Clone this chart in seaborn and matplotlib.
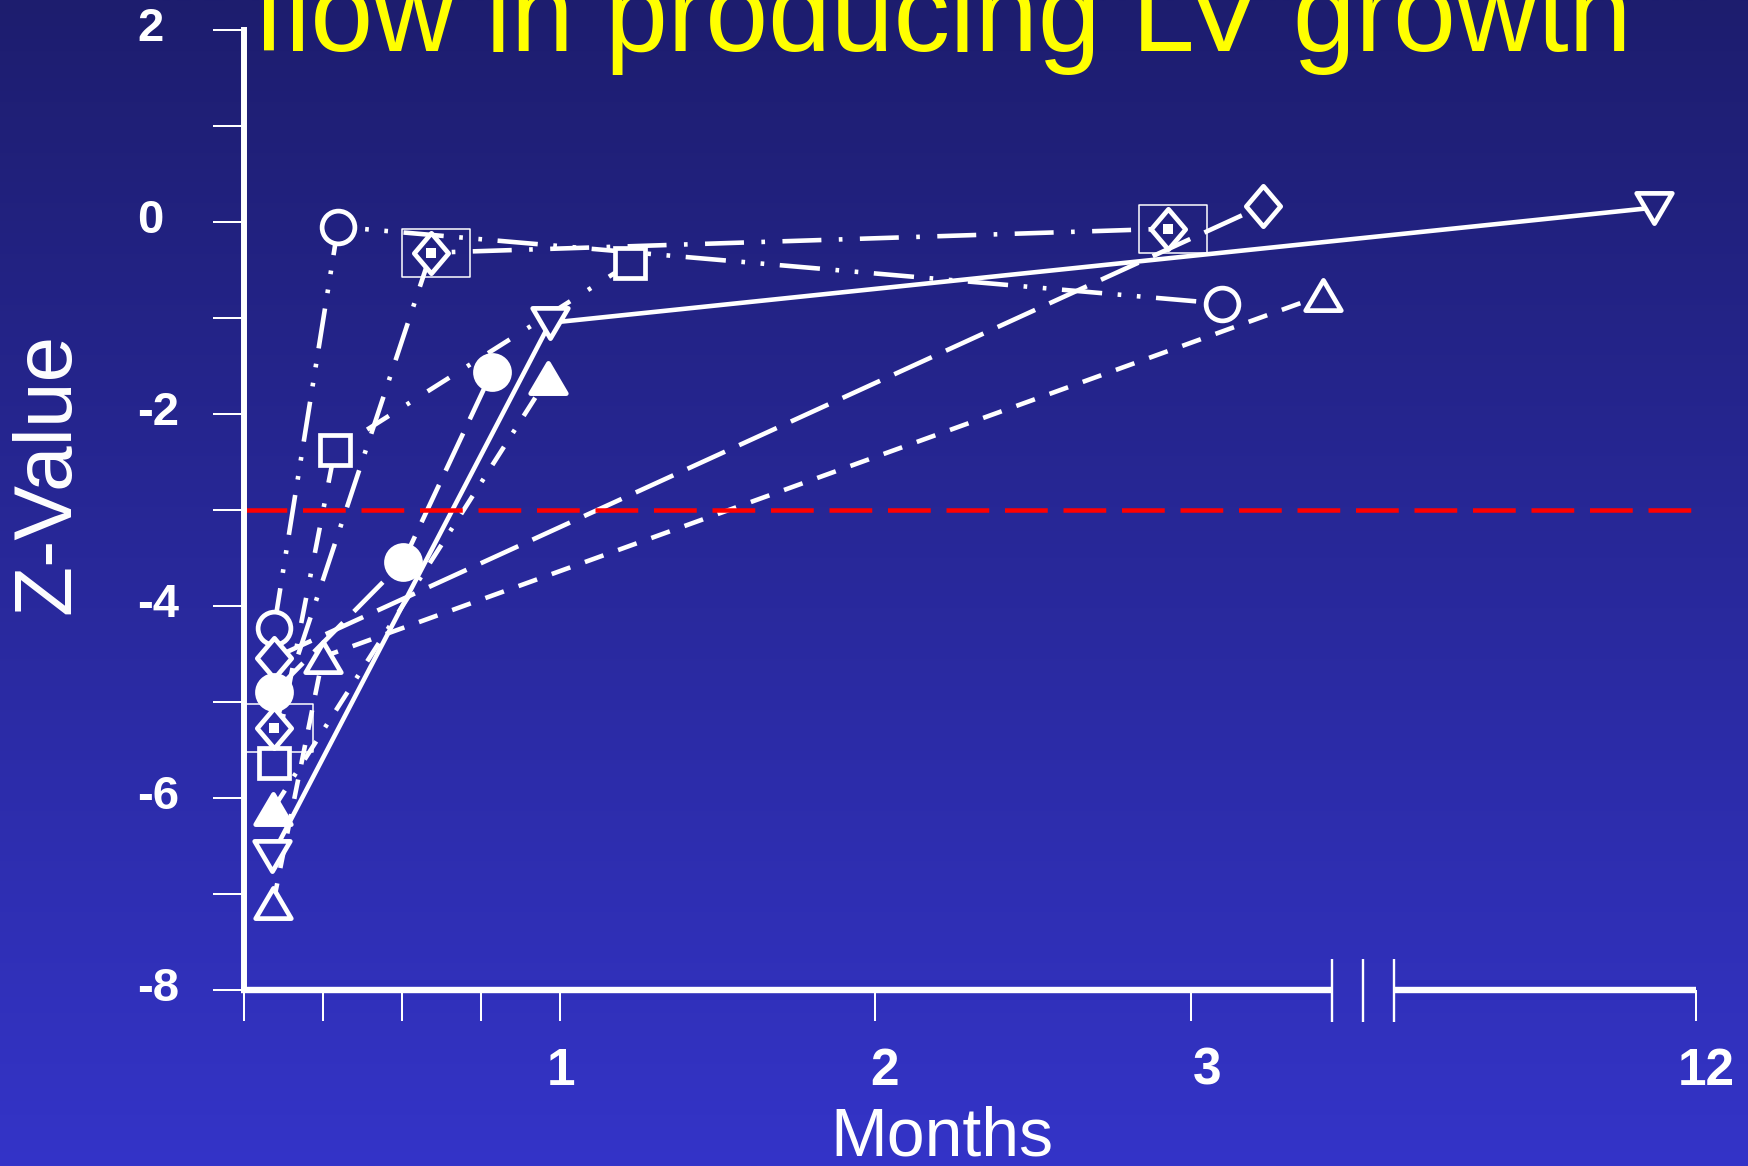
import numpy as np
import pandas as pd
import matplotlib
matplotlib.use("Agg")
import matplotlib.pyplot as plt
from matplotlib.path import Path
from matplotlib.markers import MarkerStyle
from matplotlib.transforms import ScaledTranslation
import seaborn as sns

# ---------------- data (x in plotted month units; "12" sits after the axis break) ----
circle_open_x = [0.095, 0.298, 3.10]
circle_open_z = [-4.23, -0.05, -0.85]
diamond_open_x = [0.095, 3.23]
diamond_open_z = [-4.54, 0.17]
circle_filled_x = [0.095, 0.504, 0.786]
circle_filled_z = [-4.90, -3.54, -1.56]
boxed_x = [0.095, 0.593, 2.93]
boxed_z = [-5.27, -0.32, -0.07]
square_open_x = [0.095, 0.288, 1.224]
square_open_z = [-5.64, -2.375, -0.43]
tri_filled_x = [0.093, 0.962]
tri_filled_z = [-6.11, -1.63]
tri_down_x = [0.089, 0.97, 4.47]
tri_down_z = [-6.60, -1.05, 0.15]
tri_up_x = [0.093, 0.25, 3.42]
tri_up_z = [-7.09, -4.53, -0.76]

x_tick_pos = [0, 0.25, 0.5, 0.75, 1, 2, 3, 4.602]
x_tick_labels = ["", "", "", "", "1", "2", "3", "12"]
y_ticks = list(range(-8, 3))
y_tick_labels = [str(v) if v % 2 == 0 else "" for v in y_ticks]
threshold = -3
break_lo, break_hi = 3.449, 3.645
title_text = "flow in producing LV growth"

FONT = ["Liberation Sans", "DejaVu Sans"]
plt.rcParams["font.family"] = FONT

LW = 3.3
MEW = 3.4
series = {
    "circle_open": (circle_open_x, circle_open_z, (8.8, 3.4, 0.8, 3.4, 0.8, 3.4)),
    "diamond_open": (diamond_open_x, diamond_open_z, (9, 3.4)),
    "circle_filled": (circle_filled_x, circle_filled_z, (9, 3.4)),
    "boxed": (boxed_x, boxed_z, (8.5, 3.8, 0.8, 3.8)),
    "square_open": (square_open_x, square_open_z, (5.6, 4.6, 0.8, 4.6)),
    "tri_filled": (tri_filled_x, tri_filled_z, (4.7, 3.6, 0.8, 3.6)),
    "tri_down": (tri_down_x, tri_down_z, ""),
    "tri_up": (tri_up_x, tri_up_z, (4.3, 3.4)),
}
rows = []
for name, (xs, zs, _) in series.items():
    for i, (xv, zv) in enumerate(zip(xs, zs)):
        rows.append({"series": name, "order": i, "x": xv, "z": zv})
df = pd.DataFrame(rows)
dash_map = {k: v[2] for k, v in series.items()}
palette = {k: "white" for k in series}

W, H, DPI = 1748, 1166, 100
fig = plt.figure(figsize=(W / DPI, H / DPI), dpi=DPI)

# background gradient
top_c = np.array([0x1d, 0x1d, 0x6e]) / 255.0
bot_c = np.array([0x34, 0x34, 0xc8]) / 255.0
def bg_at(frac):
    return tuple(bot_c + (top_c - bot_c) * frac)
grad = np.linspace(1, 0, 800)[:, None, None]
img = bot_c[None, None, :] + (top_c - bot_c)[None, None, :] * grad
bgax = fig.add_axes([0, 0, 1, 1])
bgax.imshow(img, aspect="auto", extent=[0, 1, 0, 1], origin="upper")
bgax.set_axis_off()

ax = fig.add_axes([244 / W, (H - 990) / H, 1452 / W, 960 / H])
ax.set_facecolor("none")
ax.set_xlim(0, 4.602)
ax.set_ylim(-8, 2)

sns.lineplot(data=df, x="x", y="z", hue="series", style="series", units=None,
             palette=palette, dashes=dash_map, estimator=None, sort=False,
             legend=False, linewidth=LW, ax=ax, zorder=2)
for ln in ax.get_lines():
    ln.set_linewidth(LW)
    ln.set_dash_capstyle("butt")
    ln.set_clip_on(False)

ax.axhline(threshold, color="#ff0000", lw=3.24, dashes=(9.5, 3.5), zorder=2.5)

# markers
def mk(verts):
    codes = [Path.MOVETO] + [Path.LINETO] * (len(verts) - 2) + [Path.CLOSEPOLY]
    return MarkerStyle(Path(verts, codes), joinstyle="miter")

up_m = mk([(0, 0.85), (-1, -0.85), (1, -0.85), (0, 0.85)])
down_m = mk([(0, -0.85), (-1, 0.85), (1, 0.85), (0, -0.85)])
diam_m = mk([(0, 1), (0.85, 0), (0, -1), (-0.85, 0), (0, 1)])
box_m = mk([(-1, -0.7), (1, -0.7), (1, 0.7), (-1, 0.7), (-1, -0.7)])

def draw_markers(xs, zs, marker, ms, filled, lw=MEW, zo=4, face=None, dx_px=0):
    for xv, zv in zip(xs, zs):
        px = ax.transData.transform((xv, zv))
        frac = px[1] / fig.bbox.height
        if face is not None:
            fc = face
        else:
            fc = "white" if filled else bg_at(frac)
        tr = ax.transData + ScaledTranslation(dx_px / DPI, 0, fig.dpi_scale_trans)
        ax.plot([xv], [zv], ls="none", marker=marker, ms=ms, mfc=fc,
                mec="white", mew=lw, zorder=zo, clip_on=False, transform=tr)

draw_markers(circle_open_x, circle_open_z, "o", 23.6, False)
draw_markers(diamond_open_x, diamond_open_z, diam_m, 29.1, False)
draw_markers(circle_filled_x, circle_filled_z, "o", 24.5, True)
draw_markers(boxed_x, boxed_z, box_m, 49, False, lw=1.1, zo=4, face="none", dx_px=5)
draw_markers(boxed_x, boxed_z, diam_m, 29.1, False, zo=5)
draw_markers(boxed_x, boxed_z, "s", 6.5, True, lw=0, zo=6)
draw_markers(square_open_x, square_open_z, "s", 21.9, False)
draw_markers(tri_filled_x, tri_filled_z, up_m, 25.6, True)
draw_markers(tri_down_x, tri_down_z, down_m, 25.6, False)
draw_markers(tri_up_x, tri_up_z, up_m, 25.6, False)

# axes styling
for s in ["top", "right", "bottom"]:
    ax.spines[s].set_visible(False)
ax.spines["left"].set_color("white")
ax.spines["left"].set_linewidth(4.3)

trans = ax.get_xaxis_transform()
ax.plot([-0.0095, break_lo], [0, 0], transform=trans, color="white", lw=4.6,
        clip_on=False, solid_capstyle="butt", zorder=6)
ax.plot([break_hi, 4.602], [0, 0], transform=trans, color="white", lw=4.6,
        clip_on=False, solid_capstyle="butt", zorder=6)
for bx in [break_lo, (break_lo + break_hi) / 2, break_hi]:
    ax.plot([bx, bx], [-0.0333, 0.0323], transform=trans, color="white", lw=1.7,
            clip_on=False, solid_capstyle="butt", zorder=6)

ax.tick_params(axis="both", direction="out", length=22, width=1.45, color="white",
               labelcolor="white")
ax.tick_params(axis="x", pad=19, labelsize=37)
ax.tick_params(axis="y", pad=55, labelsize=34)
ax.set_xticks(x_tick_pos)
ax.set_xticklabels(x_tick_labels, fontweight="bold")
ax.set_yticks(y_ticks)
ax.set_yticklabels(y_tick_labels, fontweight="bold")

x_label_dx = [0, 0, 0, 0, 1, 9, 17, 10]
for t, dxp in zip(ax.xaxis.get_major_ticks(), x_label_dx):
    t.label1.set_transform(t.label1.get_transform()
                           + ScaledTranslation(dxp / DPI, 0, fig.dpi_scale_trans))
off_y = ScaledTranslation(0, 6 / DPI, fig.dpi_scale_trans)
for t in ax.yaxis.get_major_ticks():
    t.label1.set_horizontalalignment("left")
    t.label1.set_transform(t.label1.get_transform() + off_y)

ax.set_xlabel("Months", fontsize=49, color="white", va="baseline")
ax.xaxis.set_label_coords(0.4807, -0.1719)
ax.set_ylabel("Z-Value", fontsize=59, color="white", va="baseline")
ax.yaxis.set_label_coords(-0.1205, 0.538)

fig.text(254 / W, (H - 51) / H, title_text, fontsize=81.2, color="#ffff00",
         ha="left", va="baseline")

fig.savefig("out.png", dpi=DPI)
